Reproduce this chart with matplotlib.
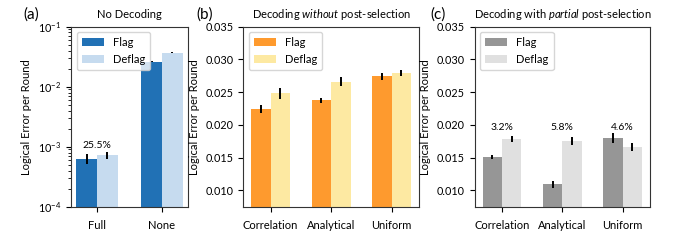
import numpy as np
import matplotlib
matplotlib.use("Agg")
import matplotlib.pyplot as plt

plt.rcParams["font.family"] = ["Lato", "DejaVu Sans"]
plt.rcParams["font.size"] = 7.5
plt.rcParams["mathtext.fontset"] = "custom"
plt.rcParams["mathtext.rm"] = "Lato"
plt.rcParams["mathtext.it"] = "Lato:italic"
plt.rcParams["axes.edgecolor"] = "#333333"
plt.rcParams["axes.linewidth"] = 0.8

# (a) no decoding
cats_a = ["Full", "None"]
flag_a = [6.3e-4, 0.0262]
flag_a_err = [1.2e-4, 0.0004]
deflag_a = [7.2e-4, 0.0368]
deflag_a_err = [0.9e-4, 0.0005]
pct_a = ["25.5%", None]

# (b) decoding without post-selection
cats_bc = ["Correlation", "Analytical", "Uniform"]
flag_b = [0.02245, 0.02377, 0.02743]
flag_b_err = [0.00066, 0.00036, 0.00056]
deflag_b = [0.0248, 0.0266, 0.02794]
deflag_b_err = [0.0008, 0.00066, 0.0005]

# (c) decoding with partial post-selection
flag_c = [0.01509, 0.01092, 0.0180]
flag_c_err = [0.00036, 0.00056, 0.0007]
deflag_c = [0.01784, 0.01759, 0.01662]
deflag_c_err = [0.0005, 0.0006, 0.0006]
pct_c = ["3.2%", "5.8%", "4.6%"]

W = 0.32
ERR = dict(ecolor="black", elinewidth=1.4, capsize=0)


def bars(ax, cats, flag, flag_err, deflag, deflag_err, c_flag, c_deflag):
    x = np.arange(len(cats))
    ax.bar(x - W / 2, flag, W, yerr=flag_err, color=c_flag, label="Flag", error_kw=ERR)
    ax.bar(x + W / 2, deflag, W, yerr=deflag_err, color=c_deflag, label="Deflag", error_kw=ERR)
    ax.set_xticks(x)
    ax.set_xticklabels(cats, fontsize=8)
    ax.set_ylabel("Logical Error per Round", fontsize=8)
    ax.legend(loc="upper left", fontsize=8, handlelength=2.0, labelspacing=0.5,
              borderpad=0.45)
    ax.tick_params(axis="x", pad=6)
    ax.tick_params(axis="y", labelsize=7.8)
    return x


fig = plt.figure(figsize=(6.78, 2.41), dpi=100)
ax_a = fig.add_axes([0.1047, 0.1423, 0.1726, 0.747])
ax_b = fig.add_axes([0.3589, 0.1423, 0.2591, 0.747])
ax_c = fig.add_axes([0.7000, 0.1423, 0.2586, 0.747])

x = bars(ax_a, cats_a, flag_a, flag_a_err, deflag_a, deflag_a_err, "#2171b5", "#c6dbef")
ax_a.set_yscale("log")
ax_a.set_ylim(1e-4, 1e-1)
ax_a.set_title("No Decoding", fontsize=8, pad=6)
for xi, p in zip(x, pct_a):
    if p:
        ax_a.text(xi, 1.05e-3, p, ha="center", va="center", fontsize=7.5)

bars(ax_b, cats_bc, flag_b, flag_b_err, deflag_b, deflag_b_err, "#fe9a2e", "#fde9a2")
ax_b.set_ylim(0.0075, 0.035)
ax_b.set_yticks([0.010, 0.015, 0.020, 0.025, 0.030, 0.035])
ax_b.set_title("Decoding $\\mathit{without}$ post-selection", fontsize=8, pad=6)

x = bars(ax_c, cats_bc, flag_c, flag_c_err, deflag_c, deflag_c_err, "#969696", "#e0e0e0")
ax_c.set_ylim(0.0075, 0.035)
ax_c.set_yticks([0.010, 0.015, 0.020, 0.025, 0.030, 0.035])
ax_c.set_title("Decoding with $\\mathit{partial}$ post-selection", fontsize=8, pad=6)
for xi, p in zip(x, pct_c):
    ax_c.text(xi, 0.0196, p, ha="center", va="center", fontsize=7.5)

for xf, lab in zip([0.046, 0.302, 0.646], ["(a)", "(b)", "(c)"]):
    fig.text(xf, 0.94, lab, fontsize=11, ha="center", va="center")

fig.savefig("out.png", dpi=100)
